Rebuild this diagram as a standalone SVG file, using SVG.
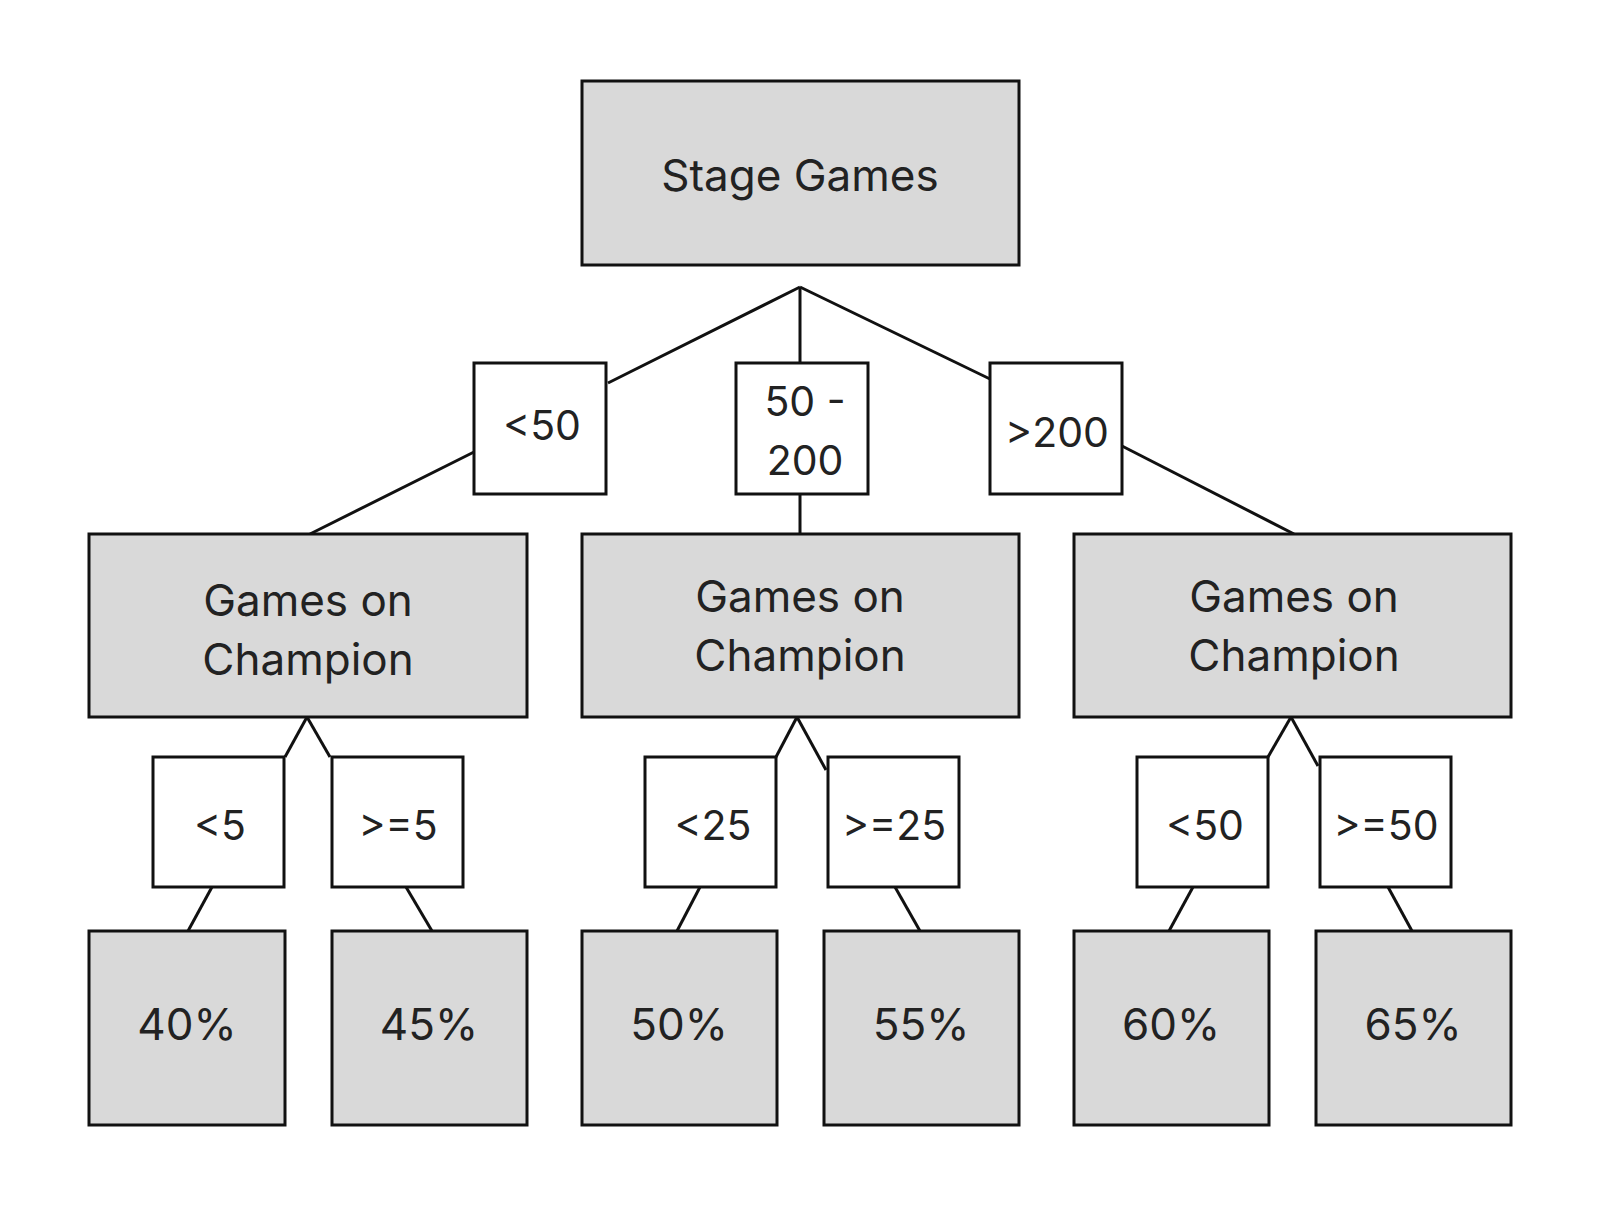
<svg xmlns="http://www.w3.org/2000/svg" width="1600" height="1219" viewBox="0 0 1600 1219">
<style>
.g{fill:#d9d9d9;stroke:#111;stroke-width:3}
.w{fill:#fff;stroke:#111;stroke-width:3}
text{font-family:Inter,"Liberation Sans",sans-serif;font-size:44px;fill:#222;text-anchor:middle;dominant-baseline:central}
.s{font-size:41px}
#c line{stroke:#111;stroke-width:3}
</style>
<rect width="1600" height="1219" fill="#fff"/>
<g id="c">
<line x1="800" y1="287" x2="608" y2="383"/><line x1="800" y1="287" x2="800" y2="363"/><line x1="800" y1="287" x2="990" y2="379"/>
<line x1="474" y1="452" x2="310" y2="534"/><line x1="800" y1="494" x2="800" y2="534"/><line x1="1122" y1="446" x2="1294" y2="534"/>
<line x1="307" y1="717" x2="285" y2="757"/><line x1="307" y1="717" x2="330" y2="757"/>
<line x1="797" y1="717" x2="776" y2="757"/><line x1="797" y1="717" x2="826" y2="770"/>
<line x1="1291" y1="717" x2="1268" y2="757"/><line x1="1291" y1="717" x2="1318" y2="766"/>
<line x1="212" y1="887" x2="188" y2="931"/><line x1="406" y1="887" x2="432" y2="931"/>
<line x1="700" y1="887" x2="677" y2="931"/><line x1="895" y1="887" x2="920" y2="931"/>
<line x1="1193" y1="887" x2="1169" y2="931"/><line x1="1388" y1="887" x2="1412" y2="931"/>
</g>
<g id="root"><rect class="g" x="582" y="81" width="437" height="184"/><text x="800" y="175">Stage Games</text></g>
<g id="l1"><rect class="w" x="474" y="363" width="132" height="131"/><text class="s" x="542" y="425">&lt;50</text></g>
<g id="l2"><rect class="w" x="736" y="363" width="132" height="131"/><text class="s" x="805" y="401">50 -</text><text class="s" x="805" y="460">200</text></g>
<g id="l3"><rect class="w" x="990" y="363" width="132" height="131"/><text class="s" x="1057" y="432">&gt;200</text></g>
<g id="m1"><rect class="g" x="89" y="534" width="438" height="183"/><text x="308" y="600">Games on</text><text x="308" y="659">Champion</text></g>
<g id="m2"><rect class="g" x="582" y="534" width="437" height="183"/><text x="800" y="596">Games on</text><text x="800" y="655">Champion</text></g>
<g id="m3"><rect class="g" x="1074" y="534" width="437" height="183"/><text x="1294" y="596">Games on</text><text x="1294" y="655">Champion</text></g>
<g id="a1"><rect class="w" x="153" y="757" width="131" height="130"/><text class="s" x="220" y="825">&lt;5</text></g>
<g id="a2"><rect class="w" x="332" y="757" width="131" height="130"/><text class="s" x="398" y="825">&gt;=5</text></g>
<g id="a3"><rect class="w" x="645" y="757" width="131" height="130"/><text class="s" x="713" y="825">&lt;25</text></g>
<g id="a4"><rect class="w" x="828" y="757" width="131" height="130"/><text class="s" x="894" y="825">&gt;=25</text></g>
<g id="a5"><rect class="w" x="1137" y="757" width="131" height="130"/><text class="s" x="1205" y="825">&lt;50</text></g>
<g id="a6"><rect class="w" x="1320" y="757" width="131" height="130"/><text class="s" x="1386" y="825">&gt;=50</text></g>
<g id="p1"><rect class="g" x="89" y="931" width="196" height="194"/><text x="187" y="1024">40%</text></g>
<g id="p2"><rect class="g" x="332" y="931" width="195" height="194"/><text x="429" y="1024">45%</text></g>
<g id="p3"><rect class="g" x="582" y="931" width="195" height="194"/><text x="679" y="1024">50%</text></g>
<g id="p4"><rect class="g" x="824" y="931" width="195" height="194"/><text x="921" y="1024">55%</text></g>
<g id="p5"><rect class="g" x="1074" y="931" width="195" height="194"/><text x="1171" y="1024">60%</text></g>
<g id="p6"><rect class="g" x="1316" y="931" width="195" height="194"/><text x="1413" y="1024">65%</text></g>
</svg>
